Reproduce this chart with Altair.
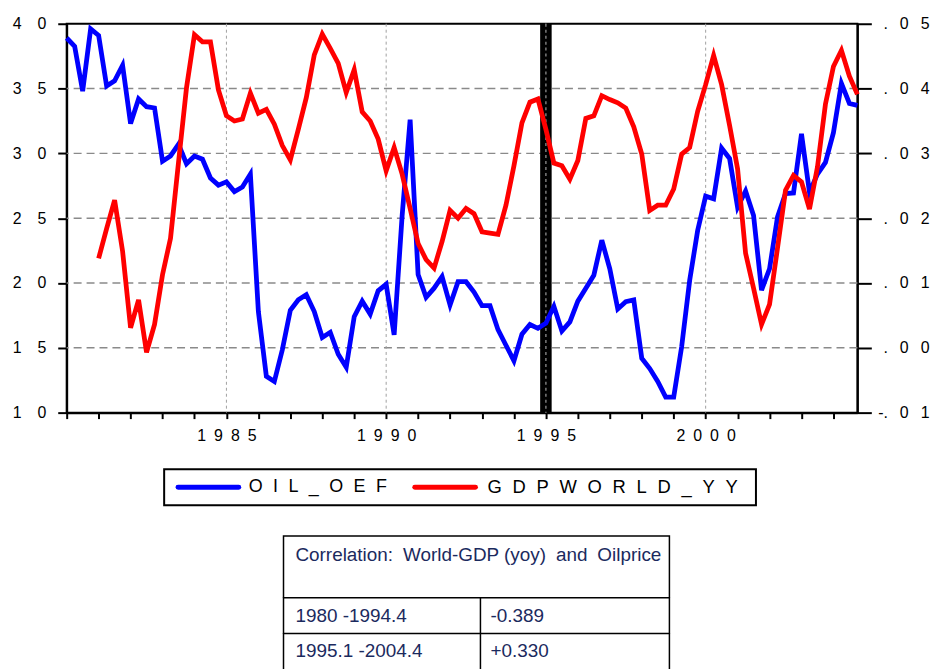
import altair as alt
import pandas as pd

# ---------------- data (quarterly, 1980Q1 .. 2004Q4) ----------------
START_YEAR = 1980
N_QUARTERS = 100

OIL_OEF = [38.9, 38.25, 34.8, 39.6, 39.1, 35.2, 35.6, 36.8, 32.3, 34.2,
           33.6, 33.5, 29.4, 29.8, 30.7, 29.2, 29.8, 29.55, 28.1, 27.55,
           27.8, 27.05, 27.4, 28.4, 17.8, 12.8, 12.4, 14.85, 17.9, 18.7,
           19.1, 17.8, 15.8, 16.2, 14.5, 13.5, 17.4, 18.6, 17.6, 19.4,
           19.9, 16.0, 25.2, 32.6, 20.65, 18.9, 19.6, 20.5, 18.3, 20.1,
           20.1, 19.3, 18.25, 18.25, 16.4, 15.2, 14.0, 16.05, 16.8, 16.5,
           16.9, 18.2, 16.3, 17.0, 18.6, 19.6, 20.6, 23.3, 21.1, 18.0,
           18.55, 18.7, 14.2, 13.4, 12.4, 11.2, 11.2, 15.1, 20.2, 24.05,
           26.7, 26.5, 30.4, 29.6, 25.85, 27.1, 25.2, 19.45, 21.1, 25.1,
           26.9, 26.95, 31.5, 27.0, 28.4, 29.3, 31.6, 35.4, 33.85, 33.7]

# starts 1981Q1
GDPWORLD_YY = [0.0138, 0.0184, 0.0228, 0.0149, 0.0031, 0.0074, -0.0007, 0.0036, 0.0113, 0.0169,
               0.0286, 0.0401, 0.0483, 0.0472, 0.0472, 0.0398, 0.0358, 0.0350, 0.0353, 0.0393,
               0.0362, 0.0368, 0.0345, 0.0312, 0.0290, 0.0337, 0.0386, 0.0452, 0.0484, 0.0462,
               0.0439, 0.0394, 0.0429, 0.0364, 0.0350, 0.0322, 0.0273, 0.0309, 0.0268, 0.0215,
               0.0161, 0.0136, 0.0123, 0.0164, 0.0212, 0.0200, 0.0215, 0.0207, 0.0179, 0.0177,
               0.0175, 0.0220, 0.0281, 0.0347, 0.0379, 0.0384, 0.0337, 0.0285, 0.0281, 0.0260,
               0.0289, 0.0354, 0.0358, 0.0389, 0.0383, 0.0378, 0.0370, 0.0341, 0.0299, 0.0212,
               0.0220, 0.0220, 0.0245, 0.0299, 0.0309, 0.0365, 0.0406, 0.0451, 0.0406, 0.0343,
               0.0276, 0.0146, 0.0092, 0.0036, 0.0067, 0.0154, 0.0243, 0.0266, 0.0256, 0.0214,
               0.0279, 0.0376, 0.0434, 0.0459, 0.0419, 0.0391]
GDP_START_INDEX = 4

LEFT_TICKS = [10, 15, 20, 25, 30, 35, 40]
RIGHT_TICKS = [-0.01, 0.0, 0.01, 0.02, 0.03, 0.04, 0.05]
HGRID = [15, 20, 25, 30, 35]
VGRID = [1985, 1990, 1995, 2000]
YEAR_TICKS = list(range(1980, 2005))
BREAK_YEAR = 1995

SERIES_NAMES = ["OIL_OEF", "GDPWORLD_YY"]
TABLE_TITLE = "Correlation:\u2005 World-GDP (yoy)\u2005 and\u2005 Oilprice"
TABLE_PERIODS = ["1980 -1994.4", "1995.1 -2004.4"]
TABLE_VALUES = ["-0.389", "+0.330"]

# ---------------- frames ----------------
t = [START_YEAR + i / 4 for i in range(N_QUARTERS)]
oil_df = pd.DataFrame({"t": t, "oil": OIL_OEF})
gdp_df = pd.DataFrame({"t": t[GDP_START_INDEX:], "gdp": GDPWORLD_YY})

SP = "\u2002"
LSP = "\u2002\u200a"
YSP = "\u2003"
RSP = "\u2002\u2005"
FONT = "Liberation Sans"
BLUE = "#0000FF"
RED = "#FF0000"
NAVY = "#1b2a5e"

x_axis = alt.Axis(values=YEAR_TICKS, title=None, grid=False, tickSize=6, labelPadding=9,
                  labelOverlap=False, labelFlush=False,
                  labelExpr=f"datum.value % 5 == 0 && datum.value > 1980 ? join(split(format(datum.value,'d'),''),'{SP}') : ''")
x_enc = alt.X("t:Q", scale=alt.Scale(domain=[1980, 2004.75], nice=False, zero=False), axis=x_axis)

oil_axis = alt.Axis(values=LEFT_TICKS, orient="left", title=None, grid=False, tickSize=9, labelPadding=12,
                    labelOverlap=False, labelFlush=False,
                    labelExpr=f"join(split(format(datum.value,'d'),''),'{YSP}')")
y_oil = alt.Y("oil:Q", scale=alt.Scale(domain=[10, 40], nice=False, zero=False), axis=oil_axis)

gdp_axis = alt.Axis(values=RIGHT_TICKS, orient="right", title=None, grid=False, tickSize=14, labelPadding=58,
                    labelAlign="right", labelOverlap=False, labelFlush=False,
                    labelExpr=(f"(datum.value < -0.000001 ? '-' : '') + "
                               f"join(split(replace(format(abs(datum.value),'.2f'),'0.','.'),''),'{RSP}')"))
y_gdp = alt.Y("gdp:Q", scale=alt.Scale(domain=[-0.01, 0.05], nice=False, zero=False), axis=gdp_axis)

hgrid = alt.Chart(pd.DataFrame({"oil": HGRID})).mark_rule(
    stroke="#8a8a8a", strokeDash=[8, 5], strokeWidth=1.5).encode(y=y_oil)
vgrid = alt.Chart(pd.DataFrame({"t": VGRID})).mark_rule(
    stroke="#a0a0a0", strokeDash=[3, 3], strokeWidth=1).encode(x=x_enc)
band = alt.Chart(pd.DataFrame({"t": [BREAK_YEAR - 0.18], "t2": [BREAK_YEAR + 0.18]})).mark_rect(
    color="black").encode(x=x_enc, x2="t2:Q")
band_line = alt.Chart(pd.DataFrame({"t": [BREAK_YEAR]})).mark_rule(
    stroke="#9a9a9a", strokeDash=[3, 3], strokeWidth=1.2).encode(x=x_enc)
oil_line = alt.Chart(oil_df).mark_line(color=BLUE, strokeWidth=4.8).encode(x=x_enc, y=y_oil)
gdp_line = alt.Chart(gdp_df).mark_line(color=RED, strokeWidth=4.8).encode(x=x_enc, y=y_gdp)

# ---------------- decorations (legend + table), plot-origin pixel coords ----------------
def txt(s, x, y, size, color="black", align="left"):
    return alt.Chart(pd.DataFrame({"s": [s]})).mark_text(
        font=FONT, fontSize=size, color=color, align=align, baseline="middle").encode(
        x=alt.value(x), y=alt.value(y), text="s:N")

def box(x, x2, y, y2, sw=2):
    return alt.Chart(pd.DataFrame({"s": [0]})).mark_rect(
        fill="white", stroke="black", strokeWidth=sw).encode(
        x=alt.value(x), x2=alt.value(x2), y=alt.value(y), y2=alt.value(y2))

def hline(x, x2, y, color, sw):
    return alt.Chart(pd.DataFrame({"s": [0]})).mark_rule(
        stroke=color, strokeWidth=sw, strokeCap="round").encode(
        x=alt.value(x), x2=alt.value(x2), y=alt.value(y))

def vline(x, y, y2, color, sw):
    return alt.Chart(pd.DataFrame({"s": [0]})).mark_rule(
        stroke=color, strokeWidth=sw).encode(
        x=alt.value(x), y=alt.value(y), y2=alt.value(y2))

spaced = [LSP.join(list(n)) for n in SERIES_NAMES]
deco = [
    box(98, 693, 448, 484),
    hline(112, 173, 466, BLUE, 5),
    txt(spaced[0], 183, 466, 18),
    hline(350, 411, 466, RED, 5),
    txt(spaced[1], 423, 466, 18.5),
    box(218, 606, 515, 650, 1.5),
    hline(218, 606, 577, "black", 1.5),
    hline(218, 606, 613, "black", 1.5),
    vline(416, 577, 650, "black", 1.5),
    txt(TABLE_TITLE, 230, 534, 19, NAVY),
    txt(TABLE_PERIODS[0], 230, 596, 19, NAVY),
    txt(TABLE_VALUES[0], 426, 596, 19, NAVY),
    txt(TABLE_PERIODS[1], 230, 631, 19, NAVY),
    txt(TABLE_VALUES[1], 426, 631, 19, NAVY),
]

inner = alt.layer(hgrid, vgrid, band, band_line, oil_line)
chart = alt.layer(inner, gdp_line, *deco).resolve_scale(y="independent").properties(
    width=795, height=391,
    autosize=alt.AutoSizeParams(type="none"),
    padding={"left": 59, "top": 14, "right": 74, "bottom": 270},
).configure_axis(
    labelFont=FONT, labelFontSize=16, labelColor="black",
    domainColor="black", domainWidth=2, tickColor="black", tickWidth=2,
).configure_view(stroke="black", strokeWidth=2)

chart.save("out.html", embed_options={"renderer": "svg", "actions": False})
